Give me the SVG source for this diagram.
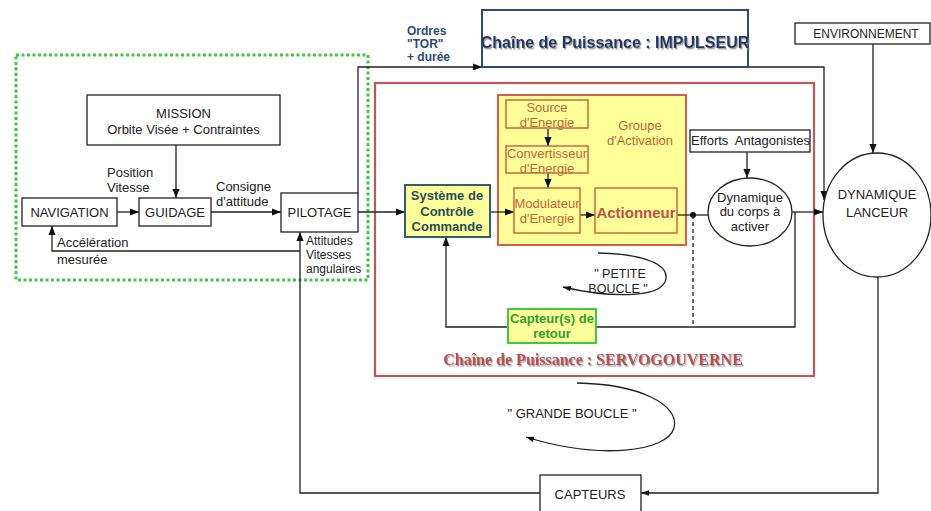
<svg xmlns="http://www.w3.org/2000/svg" width="931" height="511" viewBox="0 0 931 511">
<defs>
<marker id="ah" viewBox="0 0 10 10" refX="10" refY="5" markerWidth="9" markerHeight="9" orient="auto" markerUnits="userSpaceOnUse"><path d="M0,1 L10,5 L0,9 z" fill="#111"/></marker>
<marker id="ahs" viewBox="0 0 10 10" refX="10" refY="5" markerWidth="8" markerHeight="8" orient="auto" markerUnits="userSpaceOnUse"><path d="M0,1.5 L10,5 L0,8.5 z" fill="#111"/></marker>
<filter id="sh" x="-5%" y="-20%" width="110%" height="150%"><feDropShadow dx="1.2" dy="1.5" stdDeviation="0.5" flood-color="#888" flood-opacity="0.8"/></filter>
<style>
text{font-family:"Liberation Sans",Arial,sans-serif;font-size:13px;fill:#222}
.c{text-anchor:middle}
.box{fill:#fff;stroke:#222;stroke-width:1.3}
.ln{fill:none;stroke:#222;stroke-width:1.3}
.ib{fill:#ffff99;stroke:#cc6a3a;stroke-width:1.5}
.it{fill:#c8643a}
.ord{font-weight:bold;font-size:12px;fill:#2e4a7a}
.sm{font-size:12px}
</style>
</defs>
<rect width="931" height="511" fill="#fff"/>
<g id="containers">
<rect id="commande-zone" x="16" y="55" width="352" height="225" fill="none" stroke="#3ec93e" stroke-width="3" stroke-dasharray="3 2.5"/>
<rect id="servogouverne" x="375" y="83" width="439" height="293" fill="none" stroke="#c0575a" stroke-width="2.2"/>
<rect id="groupe-activation" x="498" y="95" width="188" height="150" fill="#ffff99" stroke="#d0604d" stroke-width="2"/>
</g>
<g id="connectors">
<path class="ln" d="M176,145 V198" marker-end="url(#ah)"/>
<path class="ln" d="M117,212 H139" marker-end="url(#ah)"/>
<path class="ln" d="M211,212 H281" marker-end="url(#ah)"/>
<path class="ln" d="M358,212 H405" marker-end="url(#ah)"/>
<path class="ln" d="M358,193 V67 H482" marker-end="url(#ah)"/>
<path class="ln" d="M748,67 H824 V200" marker-end="url(#ah)"/>
<path class="ln" d="M873,44 V153" marker-end="url(#ah)"/>
<path class="ln" d="M490,212 H514" marker-end="url(#ah)"/>
<path class="ln" d="M548,129 V146" marker-end="url(#ah)"/>
<path class="ln" d="M548,173 V188" marker-end="url(#ah)"/>
<path class="ln" d="M580,215 H595" marker-end="url(#ah)"/>
<path class="ln" d="M677,215 H708"/>
<circle cx="693" cy="215" r="3" fill="#111"/>
<path class="ln" d="M747,152 V178" marker-end="url(#ah)"/>
<path class="ln" d="M792,212 H823" marker-end="url(#ah)"/>
<path class="ln" d="M795,212 V327 H446 V237" marker-end="url(#ah)"/>
<path class="ln" d="M693,215 V327" stroke-dasharray="4 3"/>
<path class="ln" d="M878,277 V493 H641" marker-end="url(#ahs)"/>
<path class="ln" d="M540,493 H300 V232" marker-end="url(#ah)"/>
<path class="ln" d="M300,251 H52 V226" marker-end="url(#ah)"/>
<path class="ln" d="M598,253 C645,254 672,265 665,282 C657,298 610,298 563,287" stroke-width="1.1" marker-end="url(#ahs)"/>
<path class="ln" d="M577,383 C640,384 680,405 674,428 C667,452 600,460 526,437" stroke-width="1.1" marker-end="url(#ahs)"/>
</g>
<g id="mission"><rect class="box" x="87" y="95" width="193" height="50"/><text class="c" x="183.5" y="118">MISSION</text><text class="c" x="183.5" y="134">Orbite Visée + Contraintes</text></g>
<g id="navigation"><rect class="box" x="22" y="198" width="95" height="28"/><text class="c" x="69.5" y="217">NAVIGATION</text></g>
<g id="guidage"><rect class="box" x="139" y="198" width="72" height="28"/><text class="c" x="175" y="217">GUIDAGE</text></g>
<g id="pilotage"><rect class="box" x="281" y="193" width="77" height="39"/><text class="c" x="319.5" y="217">PILOTAGE</text></g>
<g id="labels">
<text x="107" y="177">Position</text><text x="107" y="192">Vitesse</text>
<text x="216" y="191">Consigne</text><text x="216" y="206">d'attitude</text>
<text x="57" y="247">Accélération</text><text x="57" y="264">mesurée</text>
<text class="sm" x="306" y="245">Attitudes</text><text class="sm" x="306" y="259">Vitesses</text><text class="sm" x="306" y="273">angulaires</text>
<text class="ord" x="407" y="35">Ordres</text><text class="ord" x="407" y="48">"TOR"</text><text class="ord" x="407" y="61">+ durée</text>
<text class="c" x="572" y="418">" GRANDE BOUCLE "</text>
<text class="c" x="620" y="278" style="font-size:12.5px">" PETITE</text><text class="c" x="618" y="293" style="font-size:12.5px">BOUCLE "</text>
<text class="c" x="593" y="365" filter="url(#sh)" style="font-family:'Liberation Serif','Times New Roman',serif;font-weight:bold;font-size:16px;fill:#b9504f">Chaîne de Puissance : SERVOGOUVERNE</text>
</g>
<g id="impulseur"><rect x="482" y="10" width="266" height="57" fill="#fff" stroke="#2e4a7a" stroke-width="2"/><text class="c" x="615" y="48" filter="url(#sh)" style="font-weight:bold;font-size:16px;fill:#1f3864">Chaîne de Puissance : IMPULSEUR</text></g>
<g id="environnement"><rect class="box" x="795" y="23" width="135" height="21"/><text class="c" x="866" y="38" style="font-size:12px">ENVIRONNEMENT</text></g>
<g id="dynamique-lanceur"><ellipse cx="877" cy="215" rx="54" ry="62" fill="#fff" stroke="#222" stroke-width="1.3"/><text class="c" x="877" y="199">DYNAMIQUE</text><text class="c" x="877" y="217">LANCEUR</text></g>
<g id="systeme-controle"><rect x="405" y="185" width="85" height="52" fill="#ffff99" stroke="#2f5f70" stroke-width="2"/><text class="c" x="447" y="200" style="font-weight:bold;fill:#1f4e5f">Système de</text><text class="c" x="447" y="216" style="font-weight:bold;fill:#1f4e5f">Contrôle</text><text class="c" x="447" y="231" style="font-weight:bold;fill:#1f4e5f">Commande</text></g>
<g id="groupe-label"><text class="c it" x="640" y="130">Groupe</text><text class="c it" x="640" y="145">d'Activation</text></g>
<g id="source"><rect class="ib" x="506" y="100" width="82" height="28"/><text class="c it" x="547" y="112">Source</text><text class="c it" x="547" y="127">d'Energie</text></g>
<g id="convertisseur"><rect class="ib" x="506" y="146" width="82" height="27"/><text class="c it" x="547" y="158">Convertisseur</text><text class="c it" x="547" y="173">d'Energie</text></g>
<g id="modulateur"><rect class="ib" x="514" y="188" width="66" height="45"/><text class="c it" x="547" y="208">Modulateur</text><text class="c it" x="547" y="223">d'Energie</text></g>
<g id="actionneur"><rect class="ib" x="595" y="188" width="82" height="45"/><text class="c" x="636" y="218" style="font-weight:bold;font-size:15px;fill:#c0504d">Actionneur</text></g>
<g id="efforts"><rect class="box" x="690" y="130" width="120" height="22"/><text x="691" y="145" xml:space="preserve">Efforts  Antagonistes</text></g>
<g id="dynamique-corps"><ellipse cx="750" cy="212" rx="42" ry="34" fill="#fff" stroke="#222" stroke-width="1.3"/><text class="c" x="750" y="202">Dynamique</text><text class="c" x="750" y="216">du corps à</text><text class="c" x="750" y="231">activer</text></g>
<g id="capteurs-retour"><rect x="508" y="309" width="88" height="34" fill="#ffff99" stroke="#3ec93e" stroke-width="2"/><text class="c" x="552" y="323" style="font-weight:bold;fill:#2ea02e">Capteur(s) de</text><text class="c" x="552" y="338" style="font-weight:bold;fill:#2ea02e">retour</text></g>
<g id="capteurs"><rect class="box" x="540" y="475" width="101" height="40"/><text class="c" x="590" y="499">CAPTEURS</text></g>
</svg>
